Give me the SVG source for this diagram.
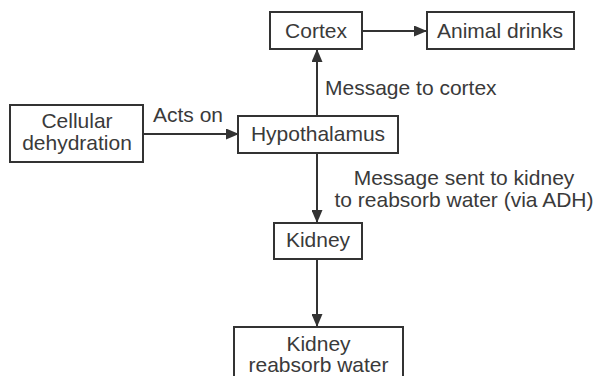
<svg xmlns="http://www.w3.org/2000/svg" width="598" height="376" viewBox="0 0 598 376">
  <style>
    .box { fill: #ffffff; stroke: #333333; stroke-width: 2; }
    .txt { font-family: "Liberation Sans", Arial, sans-serif; font-size: 21px; fill: #3a3a3a; }
    .mid { text-anchor: middle; }
    .line { stroke: #333333; stroke-width: 2; fill: none; marker-end: url(#head); }
  </style>
  <defs>
    <marker id="head" markerWidth="13" markerHeight="11" refX="12" refY="5.5" orient="auto" markerUnits="userSpaceOnUse">
      <path d="M0,0 L13,5.5 L0,11 Z" fill="#333333"/>
    </marker>
  </defs>
  <rect width="598" height="376" fill="#ffffff"/>

  <!-- connectors -->
  <g id="connectors">
    <line class="line" x1="143" y1="134" x2="238" y2="134"/>
    <line class="line" x1="317" y1="116" x2="317" y2="50"/>
    <line class="line" x1="362" y1="31" x2="426" y2="31"/>
    <line class="line" x1="317" y1="153" x2="317" y2="222"/>
    <line class="line" x1="317" y1="259" x2="317" y2="326"/>
    <text class="txt" x="153" y="122">Acts on</text>
    <text class="txt" x="325" y="95">Message to cortex</text>
    <text class="txt mid" x="464" y="185">Message sent to kidney</text>
    <text class="txt mid" x="464" y="207">to reabsorb water (via ADH)</text>
  </g>

  <g id="cellular">
    <rect class="box" x="10" y="105" width="133" height="57"/>
    <text class="txt mid" x="77" y="128">Cellular</text>
    <text class="txt mid" x="77" y="150">dehydration</text>
  </g>

  <g id="hypothalamus">
    <rect class="box" x="238" y="116" width="160" height="37"/>
    <text class="txt mid" x="318" y="141">Hypothalamus</text>
  </g>

  <g id="cortex">
    <rect class="box" x="270" y="12" width="92" height="37"/>
    <text class="txt mid" x="316" y="38">Cortex</text>
  </g>

  <g id="animal-drinks">
    <rect class="box" x="427" y="12" width="147" height="37"/>
    <text class="txt mid" x="500" y="38">Animal drinks</text>
  </g>

  <g id="kidney">
    <rect class="box" x="274" y="223" width="88" height="36"/>
    <text class="txt mid" x="318" y="247">Kidney</text>
  </g>

  <g id="kidney-reabsorb">
    <rect class="box" x="234" y="327" width="169" height="60"/>
    <text class="txt mid" x="318.5" y="351">Kidney</text>
    <text class="txt mid" x="318.5" y="372">reabsorb water</text>
  </g>
</svg>
